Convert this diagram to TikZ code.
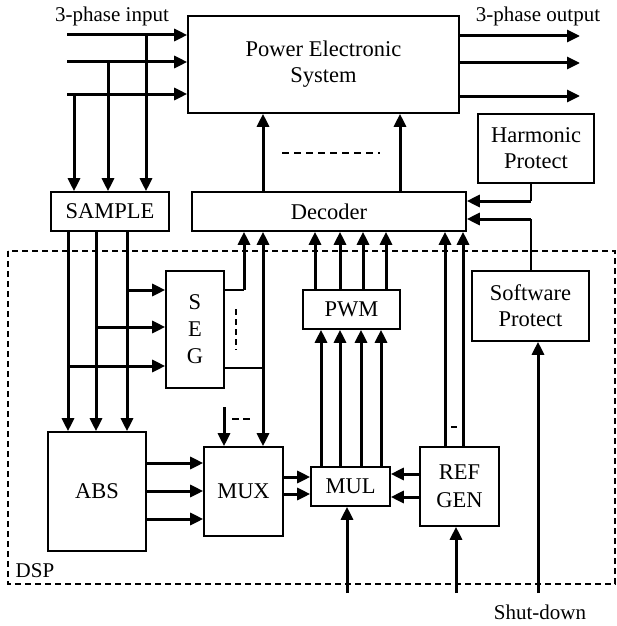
\documentclass[tikz,border=0pt]{standalone}
\usepackage{fontspec}
\setmainfont{Liberation Serif}
\usetikzlibrary{arrows.meta}

\begin{document}
\begin{tikzpicture}[
    x=1pt, y=-1pt,
    box/.style={draw, line width=1.6pt, inner sep=0pt, align=center, font=\fontsize{22.5}{26}\selectfont},
    lbl/.style={inner sep=0pt, font=\fontsize{21}{24}\selectfont},
    arr/.style={-{Triangle[length=13pt, width=12pt]}, line width=3pt},
    wire/.style={line width=1.6pt},
    dashline/.style={line width=2.4pt, dash pattern=on 7pt off 5pt},
]
\useasboundingbox (0,0) rectangle (616,626);

% blocks
\node[box, minimum width=271pt, minimum height=97pt] (pes) at (323.5,64.5) {Power Electronic\\System};
\node[box, minimum width=118pt, minimum height=39pt] (sample) at (110,211.5) {SAMPLE};
\node[box, minimum width=274pt, minimum height=39pt] (dec) at (329,211.5) {Decoder};
\node[box, minimum width=116pt, minimum height=69pt] (harm) at (536,148.5) {Harmonic\\Protect};
\node[box, minimum width=117pt, minimum height=70pt] (soft) at (530.5,306) {Software\\Protect};
\node[box, minimum width=58pt, minimum height=117pt, font=\fontsize{22.5}{27}\selectfont] (seg) at (195,329.5) {S\\E\\G};
\node[box, minimum width=97pt, minimum height=39pt] (pwm) at (351.5,309.5) {PWM};
\node[box, minimum width=98pt, minimum height=119pt] (abs) at (97,491.5) {ABS};
\node[box, minimum width=79pt, minimum height=89pt] (mux) at (243.5,491.5) {MUX};
\node[box, minimum width=79pt, minimum height=39pt] (mul) at (350.5,486.5) {MUL};
\node[box, minimum width=79pt, minimum height=79pt, font=\fontsize{22.5}{28}\selectfont] (ref) at (459.5,486.5) {REF\\GEN};

% DSP frame
\draw[line width=2pt, dash pattern=on 6pt off 4pt] (8,251) rectangle (615,584);
\node[lbl] (dsp) at (35,571) {DSP};

% labels
\node[lbl] (inlbl) at (112,16) {3-phase input};
\node[lbl] (outlbl) at (538,16) {3-phase output};
\node[lbl] (sdlbl) at (540,612) {Shut-down};

% three-phase input and output
\foreach \y/\x in {35/146, 62/108, 94/74} {
    \draw[arr] (67,\y) -- (pes.west |- 0,\y);
    \draw[arr] (\x,\y) -- (\x,0 |- sample.north);
}
\foreach \y in {36,63,96} {
    \draw[arr] (pes.east |- 0,\y) -- (580,\y);
}

% decoder to power stage
\foreach \x in {263,400} {
    \draw[arr] (\x,0 |- dec.north) -- (\x,0 |- pes.south);
}
\draw[dashline] (282,153) -- (380,153);

% protection
\coordinate (hp) at (531,201);
\coordinate (sp) at (531,219);
\draw[wire] (harm.south -| hp) -- (hp);
\draw[arr] (hp) -- (dec.east |- hp);
\draw[wire] (soft.north -| sp) -- (sp);
\draw[arr] (sp) -- (dec.east |- sp);
\draw[arr] (538,593) -- (538,0 |- soft.south);

% sample to ABS and SEG
\foreach \x/\y in {68/366, 96/327, 127/290} {
    \draw[arr] (\x,0 |- sample.south) -- (\x,0 |- abs.north);
    \draw[arr] (\x,\y) -- (seg.west |- 0,\y);
}

% SEG outputs
\coordinate (sa) at (244,290);
\coordinate (sb) at (263,368);
\draw[wire] (seg.east |- sa) -- (sa);
\draw[arr] (sa) -- (sa |- dec.south);
\draw[wire] (seg.east |- sb) -- (sb);
\draw[arr, {Triangle[length=13pt, width=12pt]}-{Triangle[length=13pt, width=12pt]}] (sb |- dec.south) -- (sb |- mux.north);
\draw[dashline, dash pattern=on 6pt off 4pt] (236,309) -- (236,350);

% MUX
\draw[arr] (224,407) -- (224,0 |- mux.north);
\draw[dashline, dash pattern=on 7pt off 4pt] (232,419) -- (251,419);
\foreach \y in {463,491,519} {
    \draw[arr] (abs.east |- 0,\y) -- (mux.west |- 0,\y);
}
\foreach \y in {477,494} {
    \draw[arr] (mux.east |- 0,\y) -- (mul.west |- 0,\y);
}

% MUL, PWM
\foreach \x in {321,340,361,381} {
    \draw[arr] (\x,0 |- mul.north) -- (\x,0 |- pwm.south);
}
\foreach \x in {315,340,363,386} {
    \draw[arr] (\x,0 |- pwm.north) -- (\x,0 |- dec.south);
}
\draw[arr] (347,593) -- (347,0 |- mul.south);

% REF GEN
\foreach \y in {474,497} {
    \draw[arr] (ref.west |- 0,\y) -- (mul.east |- 0,\y);
}
\foreach \x in {445,463} {
    \draw[arr] (\x,0 |- ref.north) -- (\x,0 |- dec.south);
}
\draw[line width=2.4pt] (451,427) -- (457,427);
\draw[arr] (456,593) -- (456,0 |- ref.south);

\end{tikzpicture}
\end{document}
